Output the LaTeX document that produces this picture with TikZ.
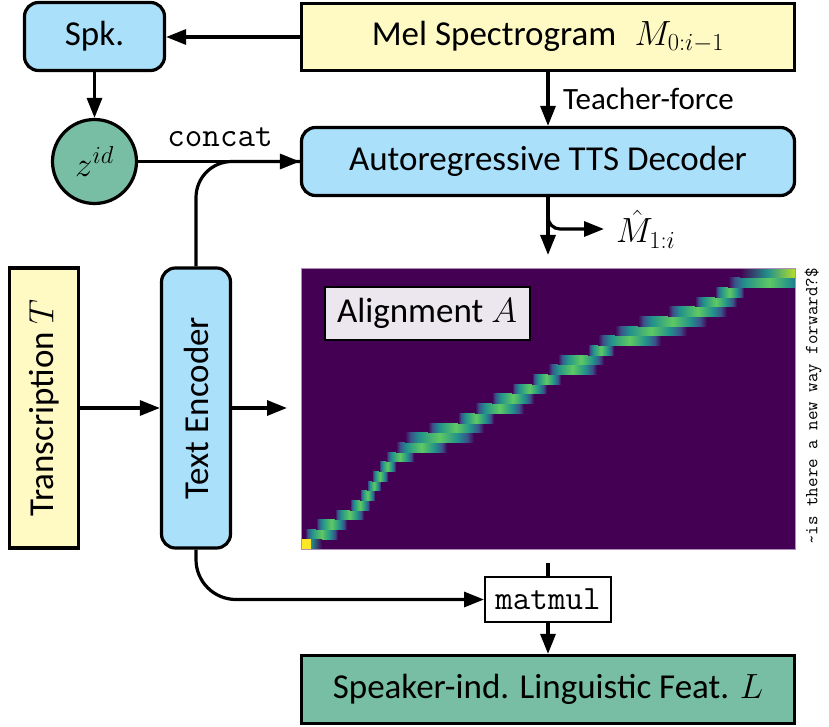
\RequirePackage{fix-cm}
\documentclass[tikz,border=0pt]{standalone}
\usepackage{fontspec}
\setmainfont{Carlito}
\usetikzlibrary{arrows.meta}
\definecolor{cblue}{RGB}{170,224,250}
\definecolor{cyellow}{RGB}{255,249,196}
\definecolor{cgreen}{RGB}{119,190,165}
\definecolor{clav}{RGB}{236,230,238}
\definecolor{vpurple}{RGB}{68,1,84}
\definecolor{vblue}{RGB}{59,82,139}
\definecolor{vteal}{RGB}{33,145,140}
\definecolor{vgreen}{RGB}{94,201,98}
\definecolor{vyellow}{RGB}{253,231,37}
\definecolor{vlime}{RGB}{181,222,43}
\pgfdeclarehorizontalshading{aln}{100bp}{color(0bp)=(vpurple); color(25bp)=(vpurple); color(29bp)=(vblue); color(35bp)=(vteal); color(50bp)=(vgreen); color(63bp)=(vteal); color(70bp)=(vblue); color(75bp)=(vpurple); color(100bp)=(vpurple)}
\begin{document}
\begin{tikzpicture}[x=1pt,y=-1pt,
  base/.style={font=\fontsize{35}{42}\selectfont, line width=3.2pt, draw=black, inner sep=0pt, align=center},
  bluebox/.style={base, fill=cblue, rounded corners=14pt},
  yelbox/.style={base, fill=cyellow},
  greenbox/.style={base, fill=cgreen},
  arr/.style={line width=3.2pt, -{Triangle[length=20pt,width=15pt]}},
  ln/.style={line width=3.2pt}]
\useasboundingbox (0,0) rectangle (829,727);

% nodes
\node[bluebox, minimum width=140, minimum height=68] (spk) at (94.5,36.5) {Spk.};
\node[yelbox, minimum width=493, minimum height=67] (mel) at (548,37) {Mel Spectrogram\hspace{0.3em} $M_{0:i-1}$};
\node[base, circle, fill=cgreen, minimum size=84] (z) at (94.5,161.5) {$z^{id}$};
\node[bluebox, minimum width=493, minimum height=68] (dec) at (548,161.5) {Autoregressive TTS Decoder};
\node[yelbox, rotate=90, minimum width=280, minimum height=69] (trans) at (44,408) {Transcription $T$};
\node[bluebox, rotate=90, minimum width=280, minimum height=69] (te) at (196,408) {Text Encoder};
\node[base, line width=2pt, fill=white, minimum width=126, minimum height=45, font=\ttfamily\fontsize{34}{40}\selectfont] (mm) at (548,599.5) {matmul};
\node[greenbox, minimum width=493, minimum height=68] (lf) at (548,689.5) {Speaker-ind. Linguistic Feat. $L$};

% alignment heat map
\begin{scope}
\clip (301,268) rectangle (795,549);
\fill[vpurple] (301,268) rectangle (795,549);
\foreach \r/\a/\b in {1/305/338, 2/316/347, 3/335/364, 4/350/370, 5/360/375, 6/367/381, 7/372/388, 8/379/396, 9/386/414, 10/396/447, 11/405/474, 12/428/484, 13/458/494, 14/475/524, 15/492/534, 16/512/547, 17/532/561, 18/548/597, 19/558/604, 20/588/614, 21/598/661, 22/615/687, 23/638/707, 24/668/727, 25/695/737, 26/715/744, 27/728/810}{
  \shade[shading=aln] (\a,{549-(\r+1)*9.69}) rectangle (\b,{549-\r*9.69});
}
\fill[vyellow] (301,539.3) rectangle (311,549);
\shade[left color=vteal, right color=vpurple] (311,539.3) rectangle (322,549);
\shade[left color=vpurple, right color=vlime, middle color=vteal] (740,268) rectangle (795,277.7);
\end{scope}
\draw[line width=0.8pt, color={rgb,255:red,175;green,140;blue,185}] (301,268) rectangle (795,549);

\node[base, line width=2pt, fill=clav, minimum width=205, minimum height=53] (alab) at (427,313) {Alignment $A$};
\node[rotate=90, inner sep=0pt, font=\ttfamily\fontsize{18.5}{20}\selectfont] (tok) at (813,406.5) {\textasciitilde is there a new way forward?\$};

% labels
\node[anchor=base, inner sep=0pt, font=\ttfamily\fontsize{34}{40}\selectfont] (cc) at (220,147) {concat};
\node[anchor=base west, inner sep=0pt, font=\fontsize{31}{36}\selectfont] (tf) at (563,110) {Teacher-force};
\node[anchor=west, inner xsep=12pt, inner ysep=0pt, font=\fontsize{35}{42}\selectfont] (mhat) at (604,229) {$\hat M_{1:i}$};

% coordinates
\coordinate (atop) at (548,255);
\coordinate (ateR) at (287,408);
\coordinate (mtop) at (548,563);

% connectors
\draw[arr] (mel.west) -- (mel.west -| spk.east);
\draw[arr] (spk.south) -- (z.north);
\draw[arr] (z.east) -- (z.east -| dec.west);
\draw[ln, rounded corners=36pt] (te.east) |- (dec.west);
\draw[arr] (mel.south) -- (dec.north);
\draw[arr] (dec.south) -- (atop);
\draw[arr, rounded corners=12pt] (dec.south) |- (mhat.west);
\draw[arr] (trans.south) -- (trans.south -| te.north);
\draw[arr] (te.south) -- (ateR);
\draw[arr, rounded corners=40pt] (te.west) |- (mm.west);
\draw[ln] (mtop) -- (mm.north);
\draw[arr] (mm.south) -- (lf.north);
\end{tikzpicture}
\end{document}
